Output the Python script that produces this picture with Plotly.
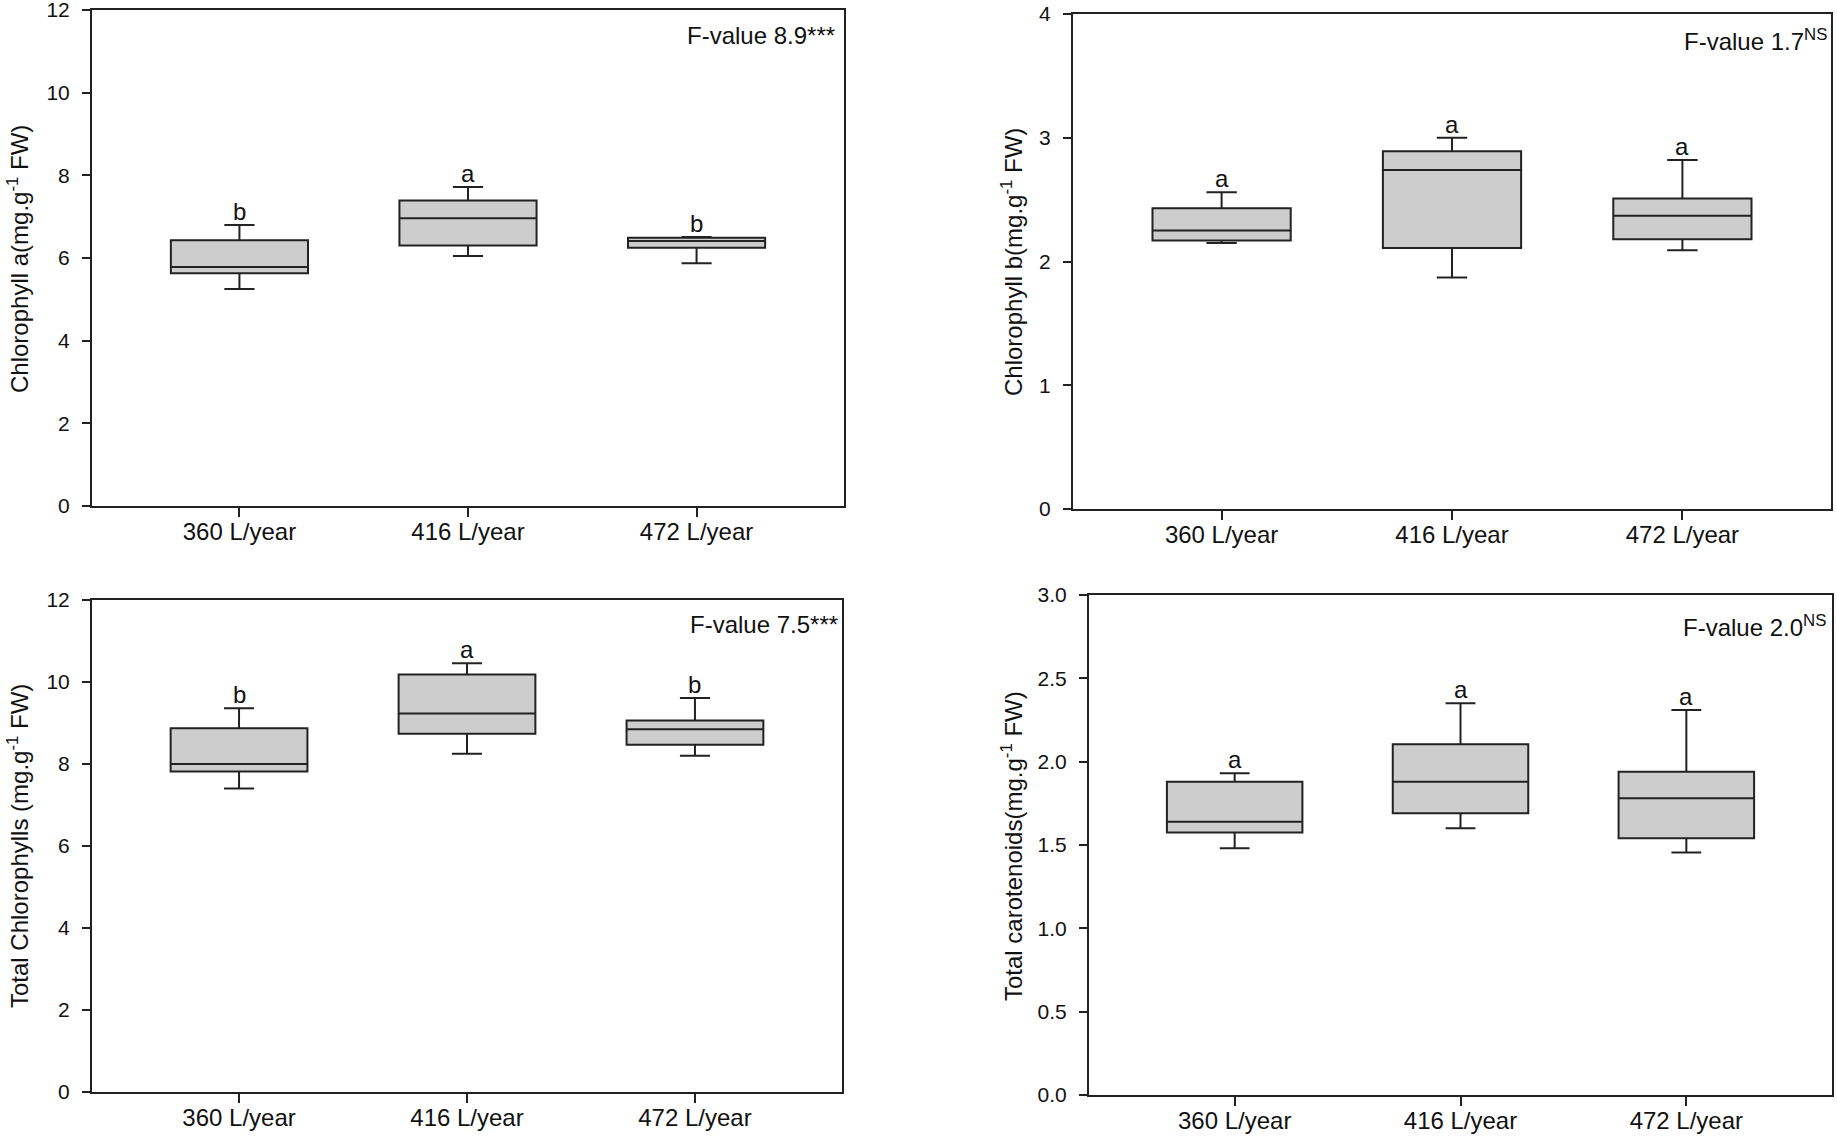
import plotly.graph_objects as go

categories = ["360 L/year", "416 L/year", "472 L/year"]

# Chlorophyll a
chla_lower = [5.25, 6.05, 5.87]
chla_q1 = [5.63, 6.30, 6.25]
chla_median = [5.78, 6.96, 6.41]
chla_q3 = [6.43, 7.39, 6.49]
chla_upper = [6.80, 7.72, 6.51]
chla_letters = ["b", "a", "b"]

# Chlorophyll b
chlb_lower = [2.15, 1.87, 2.09]
chlb_q1 = [2.17, 2.11, 2.18]
chlb_median = [2.25, 2.74, 2.37]
chlb_q3 = [2.43, 2.89, 2.51]
chlb_upper = [2.56, 3.00, 2.82]
chlb_letters = ["a", "a", "a"]

# Total chlorophylls
tchl_lower = [7.40, 8.25, 8.20]
tchl_q1 = [7.82, 8.74, 8.47]
tchl_median = [8.00, 9.23, 8.85]
tchl_q3 = [8.87, 10.18, 9.06]
tchl_upper = [9.36, 10.46, 9.61]
tchl_letters = ["b", "a", "b"]

# Total carotenoids
car_lower = [1.48, 1.60, 1.455]
car_q1 = [1.575, 1.69, 1.54]
car_median = [1.64, 1.88, 1.78]
car_q3 = [1.88, 2.105, 1.94]
car_upper = [1.93, 2.35, 2.31]
car_letters = ["a", "a", "a"]

FONT = "Arial, Liberation Sans, sans-serif"
INK = "#222222"
W, H = 1837, 1140

panels = [
    dict(lower=chla_lower, q1=chla_q1, med=chla_median, q3=chla_q3, upper=chla_upper,
         letters=chla_letters, yrange=[0, 12], dtick=2, fmt="d",
         title="Chlorophyll a(mg.g<sup>-1</sup> FW)", fval="F-value 8.9***",
         box=(92, 844, 10, 506), title_px=(18, 259), fval_px=(837, 36)),
    dict(lower=chlb_lower, q1=chlb_q1, med=chlb_median, q3=chlb_q3, upper=chlb_upper,
         letters=chlb_letters, yrange=[0, 4], dtick=1, fmt="d",
         title="Chlorophyll b(mg.g<sup>-1</sup> FW)", fval="F-value 1.7<sup>NS</sup>",
         box=(1073, 1831, 14, 509), title_px=(1012, 262), fval_px=(1829, 40)),
    dict(lower=tchl_lower, q1=tchl_q1, med=tchl_median, q3=tchl_q3, upper=tchl_upper,
         letters=tchl_letters, yrange=[0, 12], dtick=2, fmt="d",
         title="Total Chlorophylls (mg.g<sup>-1</sup> FW)", fval="F-value 7.5***",
         box=(92, 842, 600, 1092), title_px=(18, 846), fval_px=(840, 624)),
    dict(lower=car_lower, q1=car_q1, med=car_median, q3=car_q3, upper=car_upper,
         letters=car_letters, yrange=[0, 3], dtick=0.5, fmt=".1f",
         title="Total carotenoids(mg.g<sup>-1</sup> FW)", fval="F-value 2.0<sup>NS</sup>",
         box=(1089, 1832, 595, 1095), title_px=(1012, 846), fval_px=(1828, 626)),
]

fig = go.Figure()
annotations = []
layout_axes = {}

for i, p in enumerate(panels, start=1):
    xa = "x" if i == 1 else f"x{i}"
    ya = "y" if i == 1 else f"y{i}"
    fig.add_trace(go.Box(
        x=categories, q1=p["q1"], median=p["med"], q3=p["q3"],
        lowerfence=p["lower"], upperfence=p["upper"],
        xaxis=xa, yaxis=ya, width=0.6, whiskerwidth=0.22,
        fillcolor="#cdcdcd", line=dict(color=INK, width=2),
        boxpoints=False, showlegend=False, hoverinfo="skip",
    ))
    x0, x1, y0, y1 = p["box"]
    xkey = "xaxis" if i == 1 else f"xaxis{i}"
    ykey = "yaxis" if i == 1 else f"yaxis{i}"
    layout_axes[xkey] = dict(
        domain=[x0 / W, x1 / W], anchor=ya, type="category",
        categoryorder="array", categoryarray=categories,
        range=[-0.645, 2.645], showline=True, mirror=True, linecolor=INK, linewidth=2,
        ticks="outside", ticklen=9, tickwidth=1.5, tickcolor=INK,
        tickfont=dict(family=FONT, size=24, color="#111"), ticklabelstandoff=-6,
        ticklabeloverflow="allow",
        showgrid=False, zeroline=False, automargin=False,
    )
    layout_axes[ykey] = dict(
        domain=[1 - y1 / H, 1 - y0 / H], anchor=xa, range=p["yrange"],
        dtick=p["dtick"], tick0=0, tickformat=p["fmt"],
        showline=True, mirror=True, linecolor=INK, linewidth=2,
        ticks="outside", ticklen=8, tickwidth=1.5, tickcolor=INK,
        tickfont=dict(family=FONT, size=21, color="#111"), ticklabelstandoff=8,
        ticklabeloverflow="allow",
        showgrid=False, zeroline=False, automargin=False,
    )
    # significance letters above upper whiskers
    for c, up, letter in zip(categories, p["upper"], p["letters"]):
        annotations.append(dict(
            x=c, y=up, xref=xa, yref=ya, text=letter, showarrow=False,
            xanchor="center", yanchor="bottom", yshift=-2,
            font=dict(family=FONT, size=24, color="#111"),
        ))
    # y-axis title
    tx, ty = p["title_px"]
    annotations.append(dict(
        x=tx / W, y=1 - ty / H, xref="paper", yref="paper", text=p["title"],
        textangle=-90, showarrow=False, xanchor="center", yanchor="middle",
        font=dict(family=FONT, size=24, color="#111"),
    ))
    # F-value
    fx, fy = p["fval_px"]
    annotations.append(dict(
        x=fx / W, y=1 - fy / H, xref="paper", yref="paper", text=p["fval"],
        showarrow=False, xanchor="right", yanchor="middle",
        font=dict(family=FONT, size=24, color="#111"),
    ))

fig.update_layout(
    width=W, height=H, margin=dict(l=0, r=0, t=0, b=0, autoexpand=False),
    paper_bgcolor="white", plot_bgcolor="white",
    annotations=annotations, showlegend=False,
    **layout_axes,
)

fig.write_html("out.html")
